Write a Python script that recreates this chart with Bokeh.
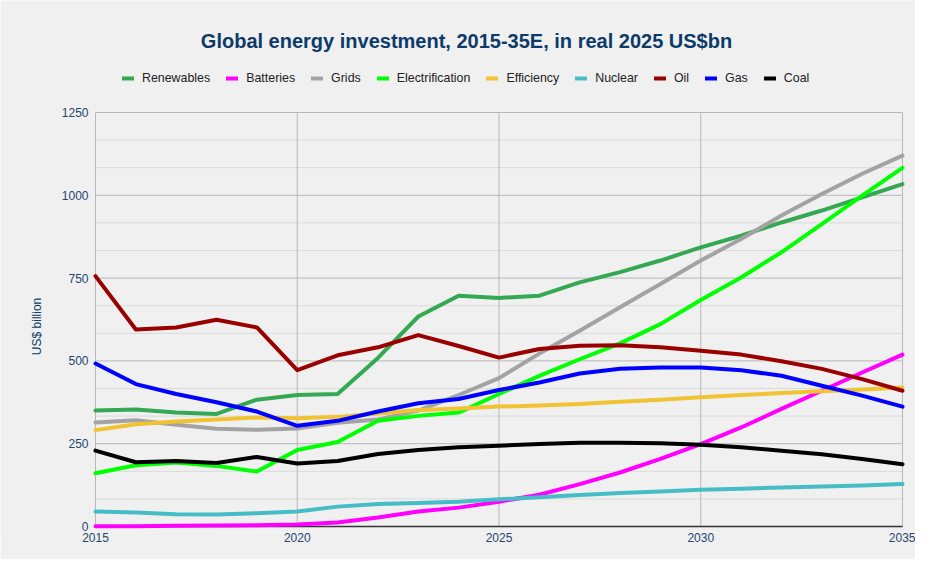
import math
from bokeh.plotting import figure
from bokeh.models import FixedTicker, Legend, LegendItem, Label
from bokeh.core.properties import value
from bokeh.embed import file_html
from bokeh.resources import INLINE

years = [2015, 2016, 2017, 2018, 2019, 2020, 2021, 2022, 2023, 2024, 2025,
         2026, 2027, 2028, 2029, 2030, 2031, 2032, 2033, 2034, 2035]

renewables = [350, 353, 344, 340, 383, 397, 400, 509, 634, 697, 690,
              697, 737, 768, 803, 843, 878, 918, 954, 994, 1034]
batteries = [1, 1, 2, 3, 4, 6, 12, 27, 45, 57, 75,
             96, 128, 163, 204, 249, 299, 355, 410, 465, 519]
grids = [314, 321, 307, 295, 292, 296, 313, 323, 350, 397, 448,
         522, 591, 662, 732, 803, 868, 939, 1004, 1065, 1120]
electrification = [161, 185, 193, 183, 166, 231, 255, 319, 334, 344, 400,
                   455, 505, 553, 611, 684, 752, 828, 913, 999, 1083]
efficiency = [291, 309, 317, 323, 329, 327, 331, 341, 352, 356, 362,
              365, 370, 377, 383, 390, 397, 403, 408, 414, 420]
nuclear = [45, 42, 37, 36, 40, 45, 60, 68, 71, 75, 82,
           88, 95, 101, 106, 111, 114, 118, 121, 124, 128]
oil = [756, 595, 601, 624, 601, 472, 517, 541, 578, 545, 510,
       536, 546, 547, 541, 531, 519, 499, 476, 445, 410]
gas = [492, 430, 400, 375, 347, 304, 319, 347, 372, 385, 412,
       435, 462, 476, 480, 480, 472, 455, 425, 395, 362]
coal = [229, 194, 198, 192, 210, 190, 198, 219, 231, 239, 244,
        249, 253, 253, 251, 247, 239, 229, 218, 204, 188]

series_names = ["Renewables", "Batteries", "Grids", "Electrification", "Efficiency",
                "Nuclear", "Oil", "Gas", "Coal"]
series_values = [renewables, batteries, grids, electrification, efficiency,
                 nuclear, oil, gas, coal]
series_colors = ["#34a853", "#ff00ff", "#a3a3a3", "#00ff00", "#f1c232",
                 "#46bdc6", "#990000", "#0000ff", "#000000"]

x_ticks = [2015, 2020, 2025, 2030, 2035]
y_ticks = [0, 250, 500, 750, 1000, 1250]
y_tick_labels = ["0", "250", "500", "750", "1000", "1250"]
y_minor = [250 * i / 3 for i in range(16) if i % 3 != 0]

title_text = "Global energy investment, 2015-35E, in real 2025 US$bn"
y_label = "US$ billion"

FONT = "Liberation Sans"
NAVY = "#0c3b69"
TICK = "#24466e"
GRID = "#b7b7b7"
MINOR = "#dadada"

# layout in pixels: the frame covers the whole canvas except the bottom axis,
# so the title, legend and y labels can sit inside it without being clipped
W, H = 915, 559
PX_LEFT, PX_RIGHT, PX_TOP, PX_ZERO = 95, 902, 112, 526
PX_FRAME_BOTTOM = 532
BOTTOM = H - PX_FRAME_BOTTOM
frame_h = PX_FRAME_BOTTOM
x0, x1 = years[0], years[-1]
ppy = (PX_RIGHT - PX_LEFT) / (x1 - x0)
y_top = y_ticks[-1]
ppu = (PX_ZERO - PX_TOP) / y_top
y_max = PX_ZERO / ppu
y_min = -(PX_FRAME_BOTTOM - PX_ZERO) / ppu

p = figure(width=W, height=H, output_backend="svg", toolbar_location=None,
           x_range=(x0 - PX_LEFT / ppy, x1 + (W - PX_RIGHT) / ppy),
           y_range=(y_min, y_max),
           min_border_left=0, min_border_right=0, min_border_top=0,
           min_border_bottom=BOTTOM)
p.background_fill_color = "#f0f0f0"
p.border_fill_color = "#f0f0f0"
p.outline_line_color = None
p.grid.visible = False
p.yaxis.visible = False

p.xaxis.ticker = FixedTicker(ticks=x_ticks)
p.xaxis.bounds = (x0, x1)
p.xaxis.major_tick_line_color = None
p.xaxis.minor_tick_line_color = None
p.xaxis.major_tick_out = 0
p.xaxis.minor_tick_out = 0
p.xaxis.major_label_text_font = FONT
p.xaxis.major_label_text_font_size = "12px"
p.xaxis.major_label_text_color = TICK
p.xaxis.axis_line_color = None
p.xaxis.major_label_standoff = 0

# plot-area grid, bounded to the data region
p.segment(x0=[x0] * len(y_minor), y0=y_minor, x1=[x1] * len(y_minor), y1=y_minor,
          line_color=MINOR, line_width=1)
p.segment(x0=[x0] * (len(y_ticks) - 1), y0=y_ticks[1:], x1=[x1] * (len(y_ticks) - 1),
          y1=y_ticks[1:], line_color=GRID, line_width=1)
p.segment(x0=x_ticks, y0=[0] * len(x_ticks), x1=x_ticks, y1=[y_top] * len(x_ticks),
          line_color=GRID, line_width=1)
# baseline at zero
p.segment(x0=[x0], y0=[y_ticks[0]], x1=[x1], y1=[y_ticks[0]],
          line_color="#333333", line_width=1.5)

# y tick labels and axis title
p.text(x=[x0] * len(y_ticks), y=y_ticks, text=y_tick_labels, x_offset=-7,
       text_align="right", text_baseline="middle", text_font_size="12px",
       text_color=TICK, text_font=value(FONT))
p.text(x=[x0], y=[604], text=[y_label], x_offset=-59, angle=math.pi / 2,
       text_align="center", text_baseline="middle", text_font_size="12px",
       text_color=NAVY, text_font=value(FONT))

items = []
for name, vals, col in zip(series_names, series_values, series_colors):
    r = p.line(years, vals, line_color=col, line_width=4, line_join="round", line_cap="round")
    items.append(LegendItem(label=name, renderers=[r]))

legend = Legend(items=items, orientation="horizontal", location=(122, frame_h - 85),
                margin=0, padding=0, spacing=16, glyph_width=12, glyph_height=14,
                label_height=14, label_width=0, label_standoff=8, label_text_font=FONT,
                label_text_font_size="12.4px", label_text_baseline="middle",
                label_text_color="#222222", background_fill_alpha=0,
                border_line_alpha=0, click_policy="none")
p.add_layout(legend, "center")

title = Label(x=466, y=frame_h - 40, x_units="screen", y_units="screen",
              text=title_text, text_align="center", text_baseline="middle",
              text_font=FONT, text_font_size="20px", text_font_style="bold",
              text_color=NAVY)
p.add_layout(title)

open("out.html", "w").write(file_html(p, INLINE))
